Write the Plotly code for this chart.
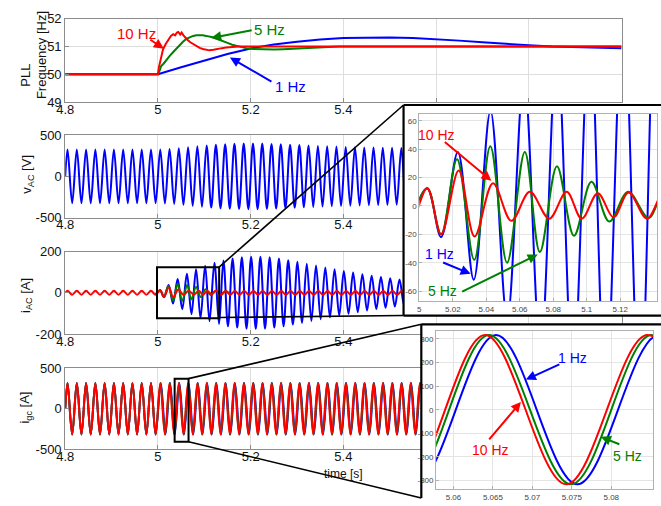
import plotly.graph_objects as go

W, H = 661, 506
FONT = "Arial, 'Liberation Sans', Helvetica, sans-serif"
RED, GREEN, BLUE = "#ff0000", "#008000", "#0000ff"

# ====================== DATA ======================
# --- Panel 1: PLL frequency [Hz] ---
pll_t_blue = [4.8, 5.0, 5.05, 5.1, 5.15, 5.2, 5.25, 5.3, 5.35, 5.4, 5.45, 5.5,
              5.55, 5.6, 5.65, 5.7, 5.75, 5.8, 5.85, 5.9, 5.95, 6.0]
pll_f_blue = [50, 50, 50.25, 50.5, 50.73, 50.93, 51.07, 51.17, 51.25, 51.3, 51.32, 51.32,
              51.3, 51.26, 51.21, 51.15, 51.09, 51.04, 51.0, 50.98, 50.96, 50.94]
pll_t_green = [4.8, 5.0, 5.004, 5.007, 5.012, 5.018, 5.025, 5.033, 5.04, 5.047, 5.054,
               5.061, 5.068, 5.076, 5.083, 5.09, 5.097, 5.104, 5.111, 5.118, 5.128,
               5.139, 5.15, 5.16, 5.175, 5.19, 5.205, 5.225, 5.25, 5.27, 5.3, 5.32,
               5.35, 5.39, 5.5, 5.7, 6.0]
pll_f_green = [50, 50, 50.15, 50.3, 50.38, 50.52, 50.65, 50.8, 50.93, 51.06, 51.17,
               51.27, 51.33, 51.38, 51.4, 51.41, 51.4, 51.38, 51.36, 51.33, 51.27,
               51.21, 51.13, 51.06, 50.99, 50.94, 50.91, 50.89, 50.89, 50.9, 50.93, 50.95,
               50.98, 51.0, 51.0, 51.0, 51.0]
pll_t_red = [4.8, 5.0, 5.002, 5.006, 5.011, 5.017, 5.023, 5.028, 5.033, 5.037, 5.041,
             5.044, 5.048, 5.051, 5.055, 5.058, 5.063, 5.069, 5.076, 5.083, 5.09,
             5.097, 5.104, 5.111, 5.12, 5.129, 5.138, 5.147, 5.16, 5.175, 5.2, 5.3,
             5.5, 5.7, 6.0]
pll_f_red = [50, 50, 50.25, 50.55, 50.9, 51.1, 51.27, 51.38, 51.44, 51.4, 51.5,
             51.52, 51.43, 51.5, 51.4, 51.33, 51.25, 51.16, 51.08, 51.0, 50.95,
             50.91, 50.88, 50.86, 50.88, 50.92, 50.94, 50.96, 50.98, 51.0, 51.0, 51.0,
             51.0, 51.0, 51.0]

# --- time of the successive extrema of the 50 Hz waveforms (main panels) ---
t_main = [4.8,
          4.805, 4.815, 4.825, 4.835, 4.845, 4.855, 4.865, 4.875, 4.885, 4.895,
          4.905, 4.915, 4.925, 4.935, 4.945, 4.955, 4.965, 4.975, 4.985, 4.995,
          5.005, 5.015, 5.025, 5.035, 5.045, 5.055, 5.065, 5.075, 5.085, 5.095,
          5.105, 5.115, 5.125, 5.135, 5.145, 5.155, 5.165, 5.175, 5.185, 5.195,
          5.205, 5.215, 5.225, 5.235, 5.245, 5.255, 5.265, 5.275, 5.285, 5.295,
          5.305, 5.315, 5.325, 5.335, 5.345, 5.355, 5.365, 5.375, 5.385, 5.395,
          5.405, 5.415, 5.425, 5.435, 5.445, 5.455, 5.465, 5.475, 5.485, 5.495,
          5.505, 5.515, 5.525, 5.535, 5.545, 5.555, 5.565, 5.575]

# --- Panel 2: v_AC [V] (extremum values) ---
v_ac = [0,
        325, -325, 325, -325, 325, -325, 325, -325, 325, -325,
        325, -325, 325, -325, 325, -325, 325, -325, 325, -325,
        326, -328, 331, -335, 340, -346, 352, -358, 364, -369,
        374, -379, 383, -387, 390, -393, 395, -397, 398, -399,
        399, -398, 397, -395, 393, -391, 389, -386, 384, -381,
        379, -376, 374, -371, 369, -367, 365, -363, 361, -359,
        357, -356, 354, -353, 351, -350, 349, -348, 347, -346,
        345, -344, 343, -342, 341, -340, 339, -338]

# --- Panel 4: i_gc [A] (extremum values, red on top) ---
igc_red = [0,
           316, -316, 316, -316, 316, -316, 316, -316, 316, -316,
           316, -316, 316, -316, 316, -316, 316, -316, 316, -316,
           316, -316, 316, -316, 316, -316, 316, -316, 316, -316,
           316, -316, 316, -316, 316, -316, 316, -316, 316, -316,
           316, -316, 316, -316, 316, -316, 316, -316, 316, -316,
           316, -316, 316, -316, 316, -316, 316, -316, 316, -316,
           316, -316, 316, -316, 316, -316, 316, -316, 316, -316,
           316, -316, 316, -316, 316, -316, 316, -316]
igc_lag_green = 0.0005   # s, after the step at t = 5 s
igc_lag_blue = 0.0012

# --- Panel 3: i_AC [A] (extrema) ---
iac_red_t = [4.8,
             4.805, 4.815, 4.825, 4.835, 4.845, 4.855, 4.865, 4.875, 4.885, 4.895,
             4.905, 4.915, 4.925, 4.935, 4.945, 4.955, 4.965, 4.975, 4.985, 4.995,
             5.0047, 5.013, 5.0235, 5.033, 5.044, 5.055, 5.066, 5.0776, 5.088, 5.097,
             5.1066, 5.116, 5.125, 5.136,
             5.146, 5.156, 5.166, 5.176, 5.186, 5.196, 5.206, 5.216, 5.226, 5.236,
             5.246, 5.256, 5.266, 5.276, 5.286, 5.296, 5.306, 5.316, 5.326, 5.336,
             5.346, 5.356, 5.366, 5.376, 5.386, 5.396, 5.406, 5.416, 5.426, 5.436,
             5.446, 5.456, 5.466, 5.476, 5.486, 5.496, 5.506, 5.516, 5.526, 5.536,
             5.546]
iac_red_v = [0,
             10, -10, 10, -10, 10, -10, 10, -10, 10, -10,
             10, -10, 10, -10, 10, -10, 10, -10, 10, -10,
             12.5, -20, 25, -21.5, 16, -10.5, 10, -9, 10, -9,
             9, -8, 9.5, -9,
             9, -9, 9, -9, 9, -9, 9, -9, 9, -9,
             9, -9, 9, -9, 9, -9, 9, -9, 9, -9,
             9, -9, 9, -9, 9, -9, 9, -9, 9, -9,
             9, -9, 9, -9, 9, -9, 9, -9, 9, -9,
             9]
iac_green_t = [4.995, 5.0047, 5.013, 5.0225, 5.0328, 5.0424, 5.0524, 5.063, 5.072,
               5.0822, 5.0924, 5.1028, 5.1135, 5.1247, 5.137, 5.146, 5.156]
iac_green_v = [-10, 12.5, -20, 33, -38, 42, -40, 38, -32.5,
               28, -21, 17, -11, 10, -8.5, 9, -9]
iac_blue_t = [4.995, 5.0047, 5.013, 5.023, 5.0325, 5.0425, 5.0525, 5.0625, 5.0724,
              5.0822, 5.0918, 5.1018, 5.1112, 5.1218, 5.1318, 5.1412,
              5.151, 5.161, 5.171, 5.181, 5.191, 5.201, 5.211, 5.221, 5.231, 5.241,
              5.251, 5.261, 5.271, 5.281, 5.291, 5.301, 5.311, 5.321, 5.331, 5.341,
              5.351, 5.361, 5.371, 5.381, 5.391, 5.401, 5.411, 5.421, 5.431, 5.441,
              5.451, 5.461, 5.471, 5.481, 5.491, 5.501, 5.511, 5.521, 5.531, 5.541]
iac_blue_v = [-10, 12.5, -22, 38, -52, 67, -80, 92, -104,
              114, -123, 131, -138, 145, -151, 157,
              -162, 166, -169, 172, -174, 175, -175, 175, -174, 172,
              -169, 166, -162, 158, -154, 150, -146, 141, -137, 132,
              -128, 123, -119, 114, -110, 106, -102, 98, -94, 90,
              -86, 83, -79, 76, -73, 70, -67, 64, -61, 59]

# --- zoom of i_gc (lower inset), extrema ---
igcz_red_t = [5.0436, 5.0539, 5.0640, 5.0743, 5.0846, 5.0949]
igcz_green_t = [5.0441, 5.0544, 5.0645, 5.0749, 5.0851, 5.0954]
igcz_blue_t = [5.0450, 5.0552, 5.0654, 5.0757, 5.0860, 5.0962]
igcz_v = [316, -316, 316, -316, 316, -316]

# --- tick labels (labels under the insets are hidden in the original) ---
xm_vals = [4.8, 5.0, 5.2, 5.4, 5.6, 5.8, 6.0]
xm_text = ["4.8", "5", "5.2", "5.4", "", "", ""]
y1_vals = [49, 50, 51, 52]
y1_text = ["49", "50", "51", "52"]
y500_vals = [-500, 0, 500]
y500_text = ["-500", "0", "500"]
y200_vals = [-200, 0, 200]
y200_text = ["-200", "0", "200"]
xi1_vals = [5.0, 5.02, 5.04, 5.06, 5.08, 5.1, 5.12]
xi1_text = ["5", "5.02", "5.04", "5.06", "5.08", "5.1", "5.12"]
yi1_vals = [-60, -40, -20, 0, 20, 40, 60]
yi1_text = ["-60", "-40", "-20", "0", "20", "40", "60"]
xi2_vals = [5.06, 5.065, 5.07, 5.075, 5.08]
xi2_text = ["5.06", "5.065", "5.07", "5.075", "5.08"]
yi2_vals = [-300, -200, -100, 0, 100, 200, 300]
yi2_text = ["-300", "-200", "-100", "0", "100", "200", "300"]

assert len(t_main) == len(v_ac) == len(igc_red)
assert len(iac_red_t) == len(iac_red_v)
assert len(iac_green_t) == len(iac_green_v)
assert len(iac_blue_t) == len(iac_blue_v)

# ====================== FIGURE ======================
def px(x):
    return x / W


def py(y):
    return 1 - y / H


def dom_x(a, b):
    return [a / W, b / W]


def dom_y(top, bottom):
    return [1 - bottom / H, 1 - top / H]


fig = go.Figure()


def line(x, y, color, ax, shape="spline", width=2):
    fig.add_trace(go.Scatter(x=x, y=y, mode="lines", showlegend=False,
                             line=dict(color=color, width=width, shape=shape),
                             xaxis="x" + ax, yaxis="y" + ax, hoverinfo="skip"))


# Panel 1
line(pll_t_blue, pll_f_blue, BLUE, "", shape="linear")
line(pll_t_green, pll_f_green, GREEN, "", shape="linear")
line(pll_t_red, pll_f_red, RED, "", shape="linear")
# Panel 2
line(t_main, v_ac, BLUE, "2")
# Panel 3
line(iac_blue_t, iac_blue_v, BLUE, "3")
line(iac_green_t, iac_green_v, GREEN, "3")
line(iac_red_t, iac_red_v, RED, "3")
# Panel 4
igc_t_blue = [t + (igc_lag_blue if t > 5.0 else 0) for t in t_main]
igc_t_green = [t + (igc_lag_green if t > 5.0 else 0) for t in t_main]
line(igc_t_blue, igc_red, BLUE, "4")
line(igc_t_green, igc_red, GREEN, "4")
line(t_main, igc_red, RED, "4")
# frames (empty subplots providing the white opaque background of the insets)
for a in ["5", "6"]:
    fig.add_trace(go.Scatter(x=[None], y=[None], mode="lines", showlegend=False,
                             xaxis="x" + a, yaxis="y" + a))
# Inset 1 (zoom of i_AC)
line(iac_blue_t, iac_blue_v, BLUE, "7")
line(iac_green_t, iac_green_v, GREEN, "7")
line(iac_red_t, iac_red_v, RED, "7")
# Inset 2 (zoom of i_gc)
line(igcz_blue_t, igcz_v, BLUE, "8")
line(igcz_green_t, igcz_v, GREEN, "8")
line(igcz_red_t, igcz_v, RED, "8")

main_ax = dict(showline=True, mirror=True, linecolor="#8c8c8c", linewidth=1,
               showgrid=True, gridcolor="#dedede", gridwidth=1, zeroline=False,
               ticks="inside", ticklen=4, tickcolor="#8c8c8c",
               tickfont=dict(family=FONT, size=13, color="#111111"))
ins_ax = dict(showline=True, mirror=True, linecolor="#b0b0b0", linewidth=1,
              showgrid=True, gridcolor="#e4e4e4", gridwidth=1, zeroline=False,
              ticks="inside", ticklen=3, tickcolor="#b0b0b0",
              tickfont=dict(family=FONT, size=8, color="#444444"))
blank_ax = dict(showline=False, showgrid=False, zeroline=False, showticklabels=False,
                ticks="", range=[0, 1], fixedrange=True)

panels = [("", 12, 98, [49, 52], y1_vals, y1_text),
          ("2", 132, 217, [-500, 500], y500_vals, y500_text),
          ("3", 252, 337, [-200, 200], y200_vals, y200_text),
          ("4", 372, 456, [-500, 500], y500_vals, y500_text)]
lay = {}
for suf, top, bot, yr, yv, yt in panels:
    lay["xaxis" + suf] = dict(main_ax, domain=dom_x(57, 621), range=[4.8, 6.0],
                              tickvals=xm_vals, ticktext=xm_text,
                              ticklabelstandoff=-5, anchor="y" + suf)
    lay["yaxis" + suf] = dict(main_ax, domain=dom_y(top, bot), range=yr,
                              tickvals=yv, ticktext=yt, anchor="x" + suf)

lay["xaxis5"] = dict(blank_ax, domain=dom_x(400, 661), anchor="y5")
lay["yaxis5"] = dict(blank_ax, domain=dom_y(101, 318), anchor="x5")
lay["xaxis6"] = dict(blank_ax, domain=dom_x(418, 661), anchor="y6")
lay["yaxis6"] = dict(blank_ax, domain=dom_y(327, 506), anchor="x6")
lay["xaxis7"] = dict(ins_ax, domain=dom_x(416, 657), range=[5.0, 5.142],
                     tickvals=xi1_vals, ticktext=xi1_text, anchor="y7")
lay["yaxis7"] = dict(ins_ax, domain=dom_y(110, 303), range=[-67, 65],
                     tickvals=yi1_vals, ticktext=yi1_text, anchor="x7")
lay["xaxis8"] = dict(ins_ax, domain=dom_x(433, 653), range=[5.0578, 5.0853],
                     tickvals=xi2_vals, ticktext=xi2_text, anchor="y8")
lay["yaxis8"] = dict(ins_ax, domain=dom_y(334, 497), range=[-337, 333],
                     tickvals=yi2_vals, ticktext=yi2_text, anchor="x8")

annotations = []


def text(x, y, s, color="#111111", size=13, angle=0):
    annotations.append(dict(x=px(x), y=py(y), xref="paper", yref="paper", text=s,
                            showarrow=False, textangle=angle,
                            xanchor="center", yanchor="middle",
                            font=dict(family=FONT, size=size, color=color)))


def arrow(tx, ty, hx, hy, color):
    annotations.append(dict(x=px(hx), y=py(hy), xref="paper", yref="paper", text="",
                            showarrow=True, ax=tx - hx, ay=ty - hy,
                            axref="pixel", ayref="pixel",
                            arrowhead=2, arrowsize=1, arrowwidth=2, arrowcolor=color))


# axis titles
text(17, 70, "PLL", angle=-90)
text(33, 50, "Frequency [Hz]", angle=-90)
text(19, 172, "v<sub>AC</sub> [V]", angle=-90)
text(17, 297, "i<sub>AC</sub> [A]", angle=-90)
text(17, 413, "i<sub>gc</sub> [A]", angle=-90)
text(339, 481, "time [s]", size=12)

# panel 1 labels
text(129, 27, "10 Hz", RED, 15)
arrow(142, 33, 157, 43, RED)
text(264, 23, "5 Hz", GREEN, 15)
arrow(247, 24, 205, 32, GREEN)
text(285, 82, "1 Hz", BLUE, 15)
arrow(267, 77, 224, 52, BLUE)
# inset 1 labels
text(433, 132, "10 Hz", RED, 14)
arrow(441, 139, 489, 179, RED)
text(436, 255, "1 Hz", BLUE, 14)
arrow(439, 263, 468, 275, BLUE)
text(439, 293, "5 Hz", GREEN, 14)
arrow(459, 293, 536, 255, GREEN)
# inset 2 labels
text(571, 362, "1 Hz", BLUE, 14)
arrow(559, 368, 524, 384, BLUE)
text(488, 457, "10 Hz", RED, 14)
arrow(486, 446, 519, 407, RED)
text(627, 463, "5 Hz", GREEN, 14)
arrow(620, 451, 600, 443, GREEN)

shapes = []


def pline(x0, y0, x1, y1, w=1.6):
    shapes.append(dict(type="line", xref="paper", yref="paper", layer="above",
                       x0=px(x0), y0=py(y0), x1=px(x1), y1=py(y1),
                       line=dict(color="black", width=w)))


# zoom boxes on the main panels
shapes.append(dict(type="rect", xref="x3", yref="y3", layer="above",
                   x0=4.998, x1=5.132, y0=-124, y1=124,
                   line=dict(color="black", width=2)))
shapes.append(dict(type="rect", xref="x4", yref="y4", layer="above",
                   x0=5.036, x1=5.066, y0=-405, y1=369,
                   line=dict(color="black", width=2)))
# connectors
pline(213, 268, 400, 101)
pline(213, 320, 400, 318)
pline(182, 383, 418, 327)
pline(182, 448, 418, 506)
# inset frames
pline(400, 101, 661, 101, 2.2)
pline(400, 101, 400, 318, 2.2)
pline(400, 318, 661, 318, 2.2)
pline(418, 327, 661, 327, 2.2)
pline(418, 327, 418, 506, 2.2)

fig.update_layout(width=W, height=H, margin=dict(l=0, r=0, t=0, b=0),
                  paper_bgcolor="white", plot_bgcolor="white",
                  showlegend=False, annotations=annotations, shapes=shapes,
                  font=dict(family=FONT), **lay)

fig.write_html("out.html", config={"displayModeBar": False},
               post_script="document.body.style.margin='0';document.body.style.overflow='hidden';")
